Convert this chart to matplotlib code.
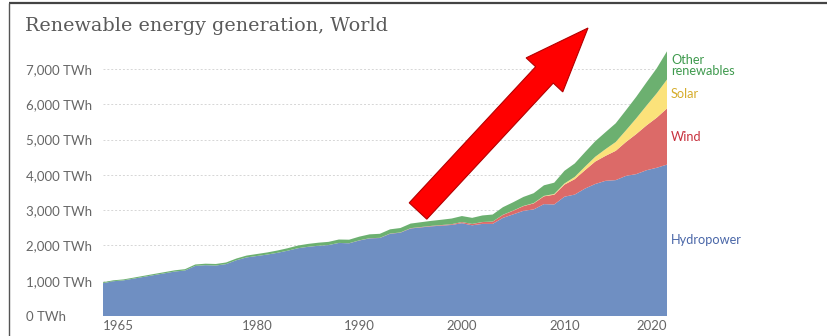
import numpy as np
import matplotlib
matplotlib.use("Agg")
import matplotlib.pyplot as plt
from matplotlib.patches import FancyArrow

# World renewable generation by source, TWh per year
years = np.arange(1965, 2021)

hydro = [930, 985, 1010, 1060, 1110, 1160, 1210, 1260, 1290, 1420,
         1440, 1430, 1470, 1580, 1660, 1700, 1740, 1790, 1850, 1920,
         1960, 1990, 2010, 2070, 2060, 2140, 2200, 2210, 2330, 2360,
         2480, 2510, 2540, 2560, 2580, 2630, 2570, 2610, 2610, 2780,
         2880, 2980, 3020, 3170, 3160, 3380, 3440, 3610, 3740, 3830,
         3850, 3970, 4020, 4130, 4200, 4290]

wind = [0] * 20 + [1, 1, 1, 1, 2, 4, 4, 5, 6, 7,
                   8, 10, 12, 16, 21, 31, 38, 52, 63, 85,
                   104, 133, 171, 221, 277, 342, 437, 521, 636, 707,
                   830, 961, 1135, 1270, 1420, 1590]

solar = [0] * 25 + [0, 0, 0, 0, 0, 1, 1, 1, 1, 1,
                    1, 1, 2, 2, 3,
                    4, 6, 8, 12, 20, 32, 64, 99, 135, 190,
                    250, 330, 445, 560, 690, 820]

other = [25, 26, 27, 28, 30, 32, 33, 35, 37, 40,
         42, 44, 46, 48, 52, 56, 60, 65, 70, 76,
         82, 86, 90, 96, 100, 105, 110, 114, 120, 126,
         130, 136, 142, 150, 160, 170, 172, 185, 200, 215,
         235, 255, 280, 300, 320, 360, 380, 410, 440, 480,
         530, 570, 610, 660, 710, 800]

series_names = ["Hydropower", "Wind", "Solar", "Other\nrenewables"]
fill_colors = ["#6f8fc2", "#dc6a68", "#fbe27a", "#6cb070"]
text_colors = ["#4a67a8", "#c8323e", "#d6ad2c", "#3f9a4e"]

y_ticks = [0, 1000, 2000, 3000, 4000, 5000, 6000, 7000]
y_labels = ["0 TWh", "1,000 TWh", "2,000 TWh", "3,000 TWh",
            "4,000 TWh", "5,000 TWh", "6,000 TWh", "7,000 TWh"]
x_ticks = [1965, 1980, 1990, 2000, 2010, 2020]

W, H = 827, 336
fig = plt.figure(figsize=(W / 100, H / 100), dpi=100)
fig.patch.set_facecolor("white")

# main chart area, placed in pixels
left, right, bottom, top = 103, 667, 316, 51.3
ax = fig.add_axes([left / W, (H - bottom) / H, (right - left) / W, (bottom - top) / H])
ax.set_xlim(1965, 2020)
ax.set_ylim(0, 7500)

stack = np.vstack([hydro, wind, solar, other])
ax.stackplot(years, stack, colors=fill_colors, linewidth=0, zorder=2)

for s in ax.spines.values():
    s.set_visible(False)

ax.set_yticks(y_ticks)
ax.set_yticklabels(y_labels)
ax.tick_params(axis="y", length=0, pad=77 * 0.72, labelsize=9.5, labelcolor="#666666")
for lbl in ax.get_yticklabels():
    lbl.set_fontfamily("Lato")
    lbl.set_horizontalalignment("left")
ax.yaxis.grid(True, color="#d6d6d6", linestyle=(0, (2, 2)), linewidth=0.7, zorder=0)

ax.set_xticks(x_ticks)
ax.set_xticklabels([str(x) for x in x_ticks])
ax.tick_params(axis="x", length=0, pad=3, labelsize=9.5, labelcolor="#666666")
xl = ax.get_xticklabels()
for lbl in xl:
    lbl.set_fontfamily("Lato")
xl[0].set_horizontalalignment("left")
xl[-1].set_horizontalalignment("right")
# small end ticks on the time axis
ax.set_xticks([1965, 2020], minor=True)
ax.tick_params(axis="x", which="minor", length=4, width=0.8, color="#999999")
ax.set_axisbelow(True)

# series labels next to the last year, at the middle of each band
base = 0
for vals, name, col in zip([hydro, wind, solar, other], series_names, text_colors):
    mid = base + vals[-1] / 2
    base += vals[-1]
    ax.text(2020.4, mid, name, color=col, fontsize=9.2, family="Lato",
            ha="left", va="center", linespacing=0.95, clip_on=False)

# overlay in pixel units for title, frame and arrow
ov = fig.add_axes([0, 0, 1, 1], zorder=5)
ov.set_xlim(0, W)
ov.set_ylim(H, 0)
ov.axis("off")
ov.patch.set_alpha(0)

ov.plot([9, W], [3, 3], color="#444444", lw=1.6, solid_capstyle="butt")
ov.plot([9, 9], [3, H], color="#555555", lw=1.0, solid_capstyle="butt")

ov.text(25, 26, "Renewable energy generation, World", family="DejaVu Serif",
        fontsize=13.8, color="#5a5a5a", ha="left", va="center")

tail = (418, 211)
tip = (588, 28)
ov.add_patch(FancyArrow(tail[0], tail[1], tip[0] - tail[0], tip[1] - tail[1],
                        width=24, head_width=50, head_length=64,
                        length_includes_head=True, facecolor="#ff0000",
                        edgecolor="#b30000", linewidth=0.8))

fig.savefig("out.png", dpi=100)
